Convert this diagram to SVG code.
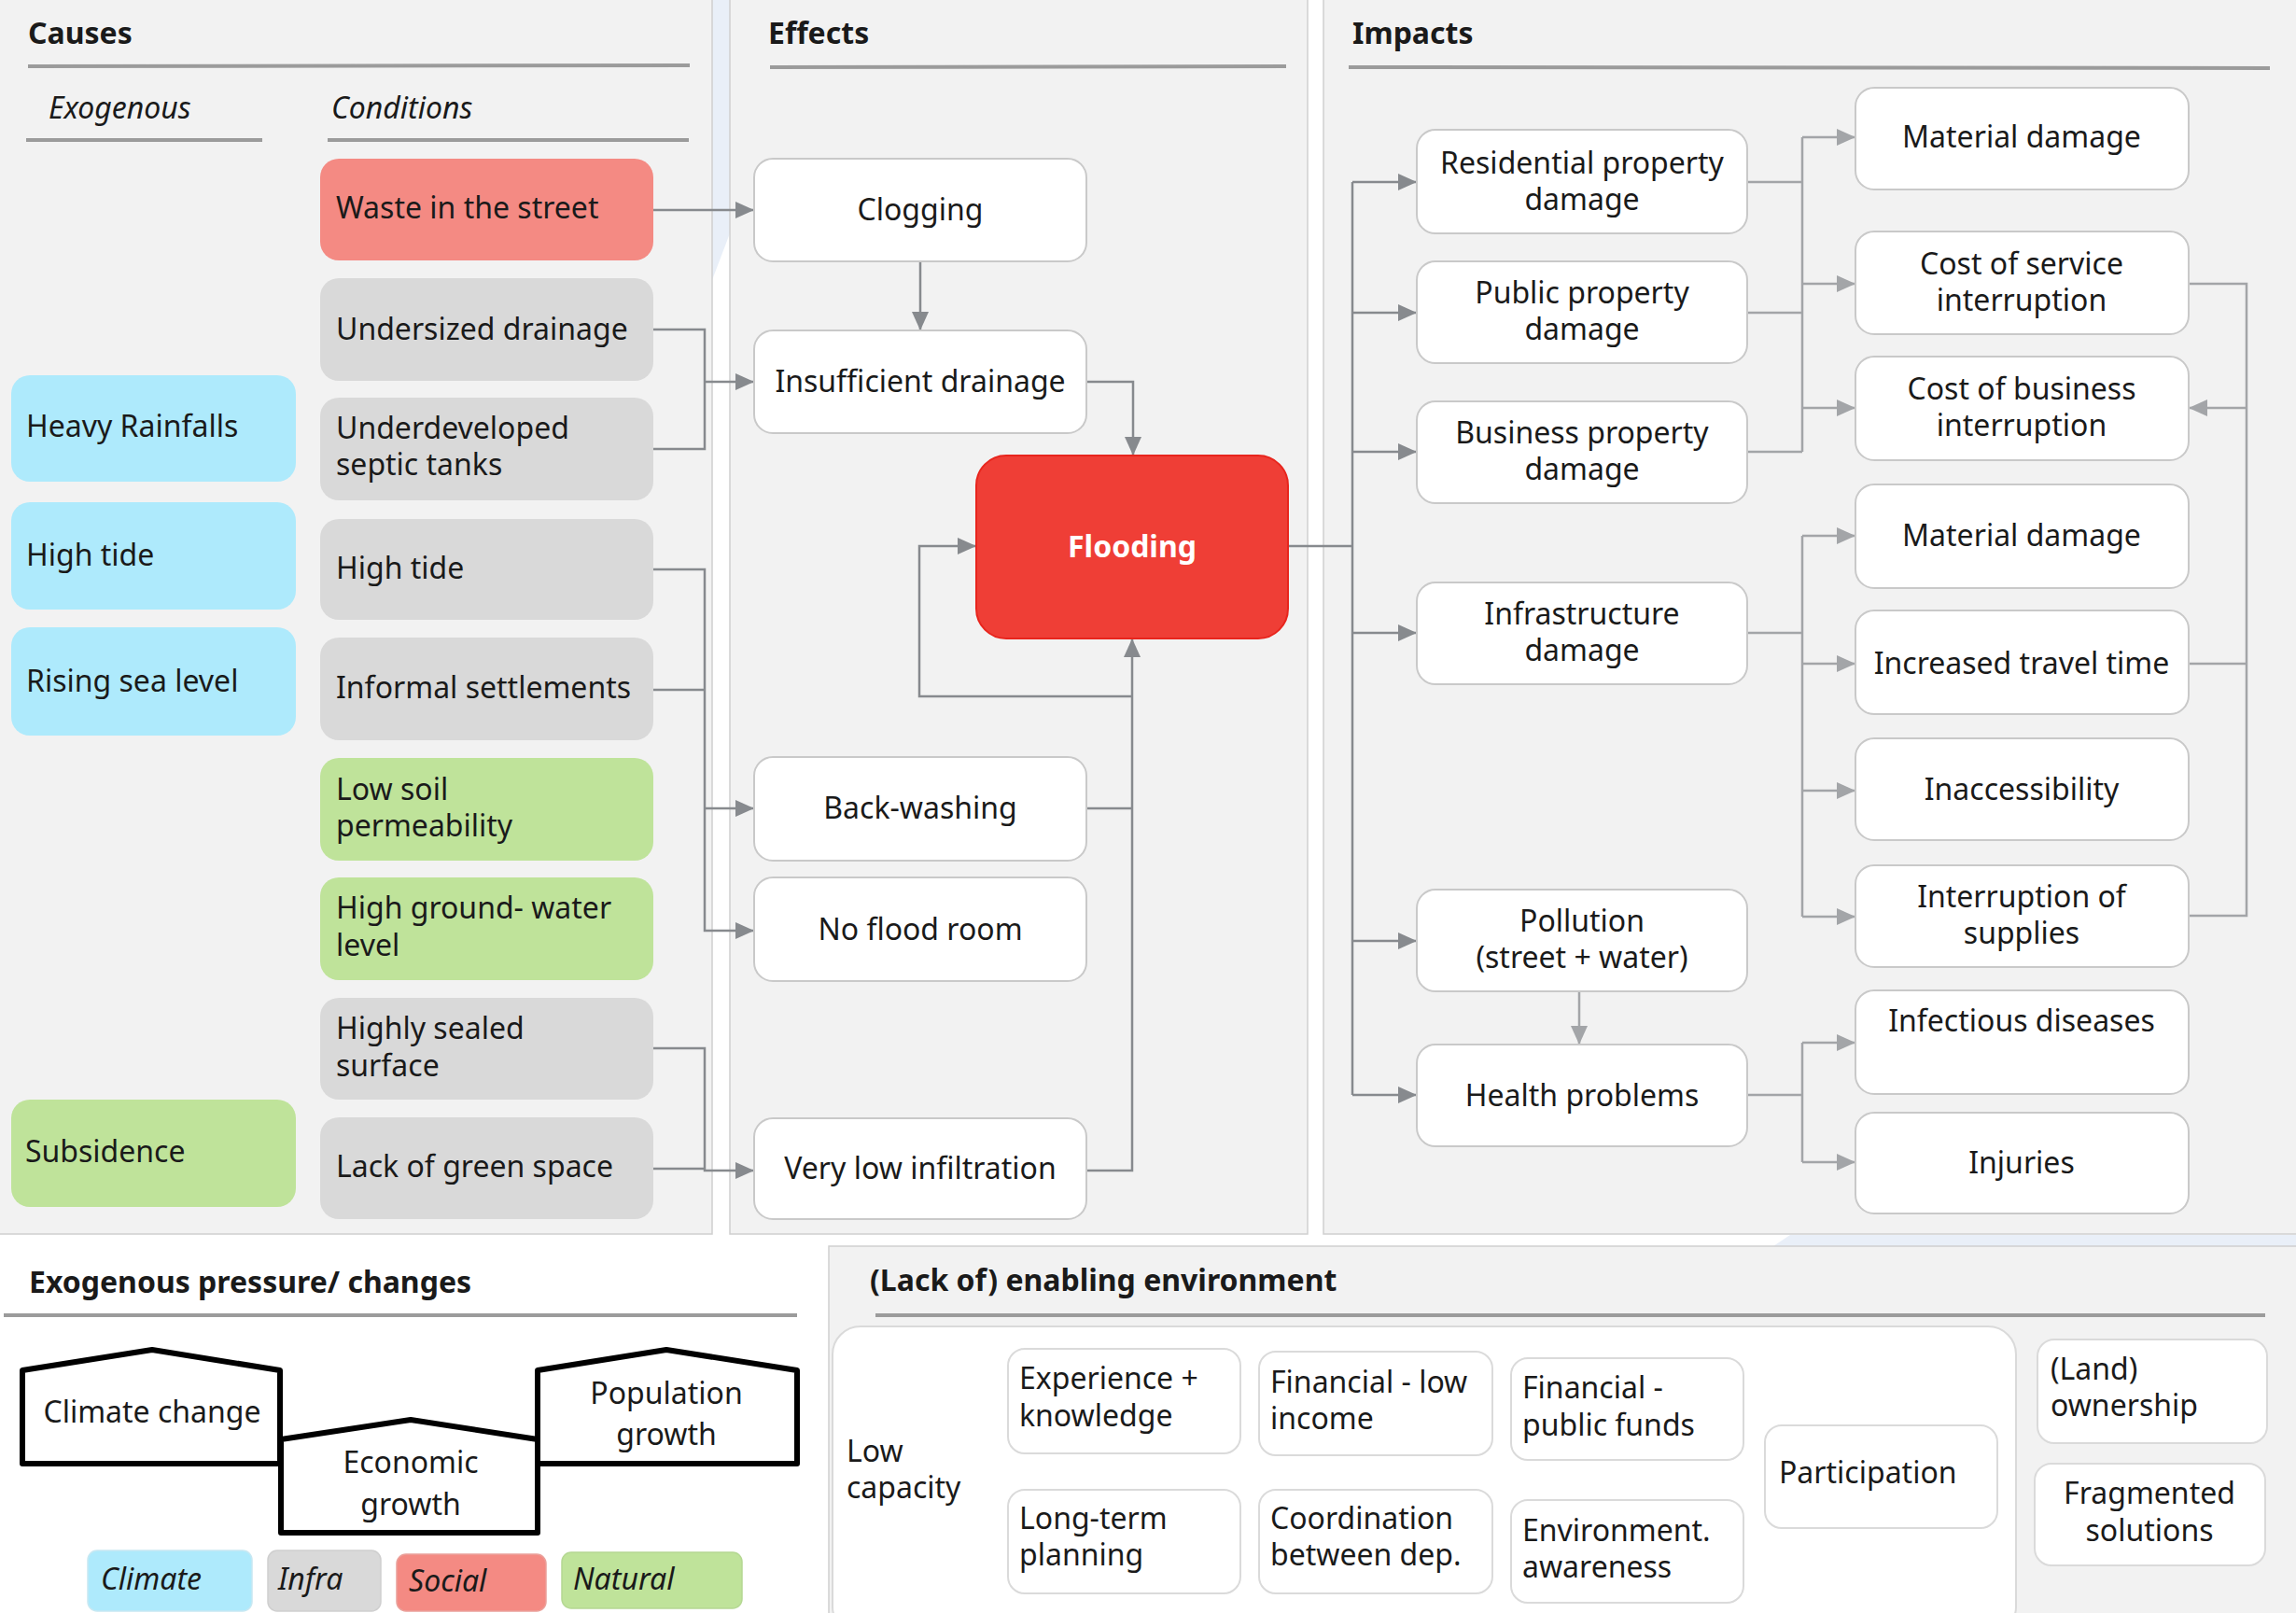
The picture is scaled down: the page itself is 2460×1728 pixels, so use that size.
<svg xmlns="http://www.w3.org/2000/svg" width="2460" height="1728" viewBox="0 0 2460 1728">
<style>
.panel{fill:#f2f2f2;stroke:#cfcfcf;stroke-width:1.5}
.t{font-family:"Noto Sans","Open Sans",sans-serif;font-size:32px;fill:#1a1a1a}
.tc{text-anchor:middle}
.b{font-weight:bold}
.it{font-style:italic}
.rule{stroke:#9b9b9b;stroke-width:4;fill:none}
.clim{fill:#aeeafc}
.infra{fill:#d9d9d9}
.soc{fill:#f48a83}
.nat{fill:#bfe39a}
.node{fill:#ffffff;stroke:#c9c9c9;stroke-width:2}
.sub{fill:#ffffff;stroke:#dadada;stroke-width:2}
.c1{fill:none;stroke:#878a8e;stroke-width:2.5}
.c2{fill:none;stroke:#a3a5a8;stroke-width:2.5}
.house{fill:#ffffff;stroke:#000000;stroke-width:6;stroke-linejoin:round}
</style>
<defs>
<marker id="a1" markerUnits="userSpaceOnUse" markerWidth="20" markerHeight="18" refX="20" refY="9" orient="auto"><path d="M0,0 L20,9 L0,18 Z" fill="#878a8e"/></marker>
<marker id="a2" markerUnits="userSpaceOnUse" markerWidth="20" markerHeight="18" refX="20" refY="9" orient="auto"><path d="M0,0 L20,9 L0,18 Z" fill="#a3a5a8"/></marker>
</defs>
<rect x="0" y="0" width="2460" height="1728" fill="#ffffff"/>
<path d="M763,0 H782 V250 L763,300 Z" fill="#e9eff8"/>
<path d="M1918,1323 H2460 V1335 H1900 Z" fill="#e9eff8"/>
<!-- panels -->
<rect class="panel" x="-2" y="-2" width="765" height="1324"/>
<rect class="panel" x="782" y="-2" width="619" height="1324"/>
<rect class="panel" x="1418" y="-2" width="1044" height="1324"/>
<rect class="panel" x="888" y="1335" width="1574" height="395"/>
<!-- titles -->
<g id="titles">
<text class="t b" x="30" y="47">Causes</text>
<line class="rule" x1="30" y1="71" x2="739" y2="70"/>
<text class="t it" x="52" y="127">Exogenous</text>
<line class="rule" x1="28" y1="150" x2="281" y2="150"/>
<text class="t it" x="355" y="127">Conditions</text>
<line class="rule" x1="351" y1="150" x2="738" y2="150"/>
<text class="t b" x="823" y="47">Effects</text>
<line class="rule" x1="825" y1="72" x2="1378" y2="71"/>
<text class="t b" x="1449" y="47">Impacts</text>
<line class="rule" x1="1445" y1="72" x2="2432" y2="73"/>
<text class="t b" x="31" y="1385">Exogenous pressure/ changes</text>
<line class="rule" x1="4" y1="1409" x2="854" y2="1409"/>
<text class="t b" x="932" y="1383">(Lack of) enabling environment</text>
<line class="rule" x1="938" y1="1409" x2="2427" y2="1409"/>
</g>
<!-- connectors -->
<g id="connectors">
<path class="c1" d="M700,225 H808" marker-end="url(#a1)"/>
<path class="c1" d="M700,353 H755 V481 H700"/>
<path class="c1" d="M755,409 H808" marker-end="url(#a1)"/>
<path class="c1" d="M986,280 V354" marker-end="url(#a1)"/>
<path class="c1" d="M1164,409 H1214 V488" marker-end="url(#a1)"/>
<path class="c1" d="M700,610 H755 V997 H808" marker-end="url(#a1)"/>
<path class="c1" d="M700,739 H755"/>
<path class="c1" d="M755,866 H808" marker-end="url(#a1)"/>
<path class="c1" d="M700,1123 H755 V1254 H808" marker-end="url(#a1)"/>
<path class="c1" d="M700,1252 H755"/>
<path class="c1" d="M1164,1254 H1213 V684" marker-end="url(#a1)"/>
<path class="c1" d="M1164,866 H1213"/>
<path class="c1" d="M1213,746 H985 V585 H1046" marker-end="url(#a1)"/>
<path class="c1" d="M1380,585 H1449"/>
<path class="c1" d="M1449,195 V1173"/>
<path class="c1" d="M1449,195 H1518" marker-end="url(#a1)"/>
<path class="c1" d="M1449,335 H1518" marker-end="url(#a1)"/>
<path class="c1" d="M1449,484 H1518" marker-end="url(#a1)"/>
<path class="c1" d="M1449,678 H1518" marker-end="url(#a1)"/>
<path class="c1" d="M1449,1008 H1518" marker-end="url(#a1)"/>
<path class="c1" d="M1449,1173 H1518" marker-end="url(#a1)"/>
<path class="c2" d="M1692,1062 V1119" marker-end="url(#a2)"/>
<path class="c2" d="M1872,195 H1931 M1872,335 H1931 M1872,484 H1931 M1931,147 V484"/>
<path class="c2" d="M1931,147 H1988" marker-end="url(#a2)"/>
<path class="c2" d="M1931,304 H1988" marker-end="url(#a2)"/>
<path class="c2" d="M1931,437 H1988" marker-end="url(#a2)"/>
<path class="c2" d="M1872,678 H1931 M1931,574 V982"/>
<path class="c2" d="M1931,574 H1988" marker-end="url(#a2)"/>
<path class="c2" d="M1931,711 H1988" marker-end="url(#a2)"/>
<path class="c2" d="M1931,847 H1988" marker-end="url(#a2)"/>
<path class="c2" d="M1931,982 H1988" marker-end="url(#a2)"/>
<path class="c2" d="M1872,1173 H1931 M1931,1117 V1245"/>
<path class="c2" d="M1931,1117 H1988" marker-end="url(#a2)"/>
<path class="c2" d="M1931,1245 H1988" marker-end="url(#a2)"/>
<path class="c2" d="M2345,304 H2407 V981 H2345 M2345,711 H2407"/>
<path class="c2" d="M2407,437 H2345" marker-end="url(#a2)"/>
</g>
<!-- cause nodes: exogenous -->
<g id="heavy-rainfalls"><rect class="clim" x="12" y="402" width="305" height="114" rx="20"/><text class="t" x="28" y="468">Heavy Rainfalls</text></g>
<g id="high-tide-exo"><rect class="clim" x="12" y="538" width="305" height="115" rx="20"/><text class="t" x="28" y="606">High tide</text></g>
<g id="rising-sea-level"><rect class="clim" x="12" y="672" width="305" height="116" rx="20"/><text class="t" x="28" y="741">Rising sea level</text></g>
<g id="subsidence"><rect class="nat" x="12" y="1178" width="305" height="115" rx="20"/><text class="t" x="27" y="1245">Subsidence</text></g>
<!-- cause nodes: conditions -->
<g id="waste"><rect class="soc" x="343" y="170" width="357" height="109" rx="20"/><text class="t" x="360" y="234">Waste in the street</text></g>
<g id="undersized-drainage"><rect class="infra" x="343" y="298" width="357" height="110" rx="20"/><text class="t" x="360" y="364">Undersized drainage</text></g>
<g id="septic-tanks"><rect class="infra" x="343" y="426" width="357" height="110" rx="20"/><text class="t" x="360" y="470">Underdeveloped</text><text class="t" x="360" y="509">septic tanks</text></g>
<g id="high-tide-cond"><rect class="infra" x="343" y="556" width="357" height="108" rx="20"/><text class="t" x="360" y="620">High tide</text></g>
<g id="informal-settlements"><rect class="infra" x="343" y="683" width="357" height="110" rx="20"/><text class="t" x="360" y="748">Informal settlements</text></g>
<g id="low-soil"><rect class="nat" x="343" y="812" width="357" height="110" rx="20"/><text class="t" x="360" y="857">Low soil</text><text class="t" x="360" y="896">permeability</text></g>
<g id="groundwater"><rect class="nat" x="343" y="940" width="357" height="110" rx="20"/><text class="t" x="360" y="984">High ground- water</text><text class="t" x="360" y="1024">level</text></g>
<g id="sealed-surface"><rect class="infra" x="343" y="1069" width="357" height="109" rx="20"/><text class="t" x="360" y="1113">Highly sealed</text><text class="t" x="360" y="1153">surface</text></g>
<g id="green-space"><rect class="infra" x="343" y="1197" width="357" height="109" rx="20"/><text class="t" x="360" y="1261">Lack of green space</text></g>
<!-- effects -->
<g id="clogging"><rect class="node" x="808" y="170" width="356" height="110" rx="20"/><text class="t tc" x="986" y="236">Clogging</text></g>
<g id="insufficient-drainage"><rect class="node" x="808" y="354" width="356" height="110" rx="20"/><text class="t tc" x="986" y="420">Insufficient drainage</text></g>
<g id="flooding"><rect x="1046" y="488" width="334" height="196" rx="32" fill="#ef3e36" stroke="#e8251d" stroke-width="2"/><text class="t tc b" x="1213" y="597" style="fill:#ffffff">Flooding</text></g>
<g id="back-washing"><rect class="node" x="808" y="811" width="356" height="111" rx="20"/><text class="t tc" x="986" y="877">Back-washing</text></g>
<g id="no-flood-room"><rect class="node" x="808" y="940" width="356" height="111" rx="20"/><text class="t tc" x="986" y="1007">No flood room</text></g>
<g id="low-infiltration"><rect class="node" x="808" y="1198" width="356" height="108" rx="20"/><text class="t tc" x="986" y="1263">Very low infiltration</text></g>
<!-- impacts col 1 -->
<g id="residential"><rect class="node" x="1518" y="139" width="354" height="111" rx="20"/><text class="t tc" x="1695" y="186">Residential property</text><text class="t tc" x="1695" y="225">damage</text></g>
<g id="public"><rect class="node" x="1518" y="280" width="354" height="109" rx="20"/><text class="t tc" x="1695" y="325">Public property</text><text class="t tc" x="1695" y="364">damage</text></g>
<g id="business"><rect class="node" x="1518" y="430" width="354" height="109" rx="20"/><text class="t tc" x="1695" y="475">Business property</text><text class="t tc" x="1695" y="514">damage</text></g>
<g id="infrastructure"><rect class="node" x="1518" y="624" width="354" height="109" rx="20"/><text class="t tc" x="1695" y="669">Infrastructure</text><text class="t tc" x="1695" y="708">damage</text></g>
<g id="pollution"><rect class="node" x="1518" y="953" width="354" height="109" rx="20"/><text class="t tc" x="1695" y="998">Pollution</text><text class="t tc" x="1695" y="1037">(street + water)</text></g>
<g id="health"><rect class="node" x="1518" y="1119" width="354" height="109" rx="20"/><text class="t tc" x="1695" y="1185">Health problems</text></g>
<!-- impacts col 2 -->
<g id="material-1"><rect class="node" x="1988" y="94" width="357" height="109" rx="20"/><text class="t tc" x="2166" y="158">Material damage</text></g>
<g id="service-interruption"><rect class="node" x="1988" y="248" width="357" height="110" rx="20"/><text class="t tc" x="2166" y="294">Cost of service</text><text class="t tc" x="2166" y="333">interruption</text></g>
<g id="business-interruption"><rect class="node" x="1988" y="382" width="357" height="111" rx="20"/><text class="t tc" x="2166" y="428">Cost of business</text><text class="t tc" x="2166" y="467">interruption</text></g>
<g id="material-2"><rect class="node" x="1988" y="519" width="357" height="111" rx="20"/><text class="t tc" x="2166" y="585">Material damage</text></g>
<g id="travel-time"><rect class="node" x="1988" y="654" width="357" height="111" rx="20"/><text class="t tc" x="2166" y="722">Increased travel time</text></g>
<g id="inaccessibility"><rect class="node" x="1988" y="791" width="357" height="109" rx="20"/><text class="t tc" x="2166" y="857">Inaccessibility</text></g>
<g id="supplies"><rect class="node" x="1988" y="927" width="357" height="109" rx="20"/><text class="t tc" x="2166" y="972">Interruption of</text><text class="t tc" x="2166" y="1011">supplies</text></g>
<g id="infectious"><rect class="node" x="1988" y="1061" width="357" height="111" rx="20"/><text class="t tc" x="2166" y="1105">Infectious diseases</text></g>
<g id="injuries"><rect class="node" x="1988" y="1192" width="357" height="108" rx="20"/><text class="t tc" x="2166" y="1257">Injuries</text></g>
<!-- exogenous pressures -->
<g id="climate-change"><path class="house" d="M24,1468 L163,1446 L300,1468 V1568 H24 Z"/><text class="t tc" x="163" y="1524">Climate change</text></g>
<g id="economic-growth"><path class="house" d="M301,1542 L440,1521 L576,1542 V1642 H301 Z"/><text class="t tc" x="440" y="1578">Economic</text><text class="t tc" x="440" y="1623">growth</text></g>
<g id="population-growth"><path class="house" d="M576,1468 L714,1446 L854,1468 V1568 H576 Z"/><text class="t tc" x="714" y="1504">Population</text><text class="t tc" x="714" y="1548">growth</text></g>
<!-- legend -->
<g id="legend">
<rect class="clim" x="94" y="1661" width="176" height="65" rx="10" stroke="#c8e8f2" stroke-width="1.5"/><text class="t it" x="108" y="1703">Climate</text>
<rect class="infra" x="287" y="1661" width="121" height="65" rx="10" stroke="#cfcfcf" stroke-width="1.5"/><text class="t it" x="298" y="1703">Infra</text>
<rect class="soc" x="425" y="1665" width="160" height="61" rx="10" stroke="#eaa09a" stroke-width="1.5"/><text class="t it" x="438" y="1705">Social</text>
<rect class="nat" x="602" y="1663" width="193" height="60" rx="10" stroke="#b5d893" stroke-width="1.5"/><text class="t it" x="614" y="1703">Natural</text>
</g>
<!-- enabling environment -->
<g id="low-capacity"><rect class="sub" x="892" y="1421" width="1268" height="330" rx="30"/><text class="t" x="907" y="1566">Low</text><text class="t" x="907" y="1605">capacity</text></g>
<g id="experience"><rect class="sub" x="1080" y="1445" width="249" height="112" rx="18"/><text class="t" x="1092" y="1488">Experience +</text><text class="t" x="1092" y="1528">knowledge</text></g>
<g id="financial-low-income"><rect class="sub" x="1349" y="1448" width="250" height="111" rx="18"/><text class="t" x="1361" y="1492">Financial - low</text><text class="t" x="1361" y="1531">income</text></g>
<g id="financial-public-funds"><rect class="sub" x="1619" y="1455" width="249" height="109" rx="18"/><text class="t" x="1631" y="1498">Financial -</text><text class="t" x="1631" y="1538">public funds</text></g>
<g id="participation"><rect class="sub" x="1891" y="1527" width="249" height="110" rx="18"/><text class="t" x="1906" y="1589">Participation</text></g>
<g id="long-term-planning"><rect class="sub" x="1080" y="1596" width="249" height="111" rx="18"/><text class="t" x="1092" y="1638">Long-term</text><text class="t" x="1092" y="1677">planning</text></g>
<g id="coordination"><rect class="sub" x="1349" y="1596" width="250" height="111" rx="18"/><text class="t" x="1361" y="1638">Coordination</text><text class="t" x="1361" y="1677">between dep.</text></g>
<g id="environment-awareness"><rect class="sub" x="1619" y="1607" width="249" height="110" rx="18"/><text class="t" x="1631" y="1651">Environment.</text><text class="t" x="1631" y="1690">awareness</text></g>
<g id="land-ownership"><rect class="sub" x="2183" y="1435" width="246" height="111" rx="18"/><text class="t" x="2197" y="1478">(Land)</text><text class="t" x="2197" y="1517">ownership</text></g>
<g id="fragmented-solutions"><rect class="sub" x="2180" y="1568" width="247" height="109" rx="18"/><text class="t tc" x="2303" y="1611">Fragmented</text><text class="t tc" x="2303" y="1651">solutions</text></g>
</svg>
